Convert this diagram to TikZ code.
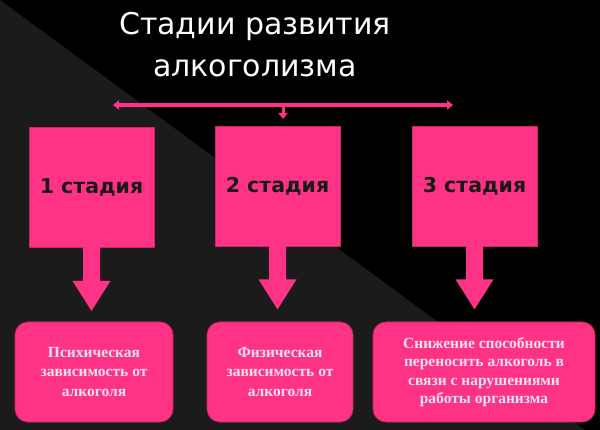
\documentclass[tikz,border=0pt]{standalone}
\usepackage{fontspec}
\setmainfont{Liberation Serif}
\newfontfamily\titlefont{DejaVu Sans}
\usetikzlibrary{calc,arrows.meta}
\definecolor{hotpink}{HTML}{FF3385}
\definecolor{darkbg}{HTML}{1B1B1B}
\definecolor{pinktext}{HTML}{FBE3EE}
\definecolor{pinkedge}{HTML}{C8285F}
\tikzset{
  stagebox/.style={fill=hotpink, draw=pinkedge, line width=0.8pt, minimum width=125pt, minimum height=120pt, inner sep=0pt,
    font=\titlefont\bfseries\fontsize{20.5}{24}\selectfont, text=black!90},
  resultbox/.style={fill=hotpink, draw=pinkedge, line width=0.8pt, rounded corners=13pt, minimum height=100pt, inner sep=0pt,
    align=center, font=\bfseries\fontsize{15.5}{19.5}\selectfont, text=pinktext},
  titletext/.style={text=white, font=\titlefont\fontsize{30}{42}\selectfont, align=center},
  connector/.style={draw=hotpink, line width=3.5pt, -{Triangle[width=9pt,length=6pt]}},
  blockarrow/.style={fill=hotpink}
}
\begin{document}
\begin{tikzpicture}[x=1pt,y=-1pt]
\useasboundingbox (0,0) rectangle (600,430);
\fill[black] (0,0) rectangle (600,430);
\fill[darkbg] (0,0) -- (585,430) -- (0,430) -- cycle;

\node[titletext] (title) at (255,45) {Стадии развития\\алкоголизма};

\node[stagebox] (s1) at (91.5,187.5) {1 стадия};
\node[stagebox] (s2) at (277.5,186) {2 стадия};
\node[stagebox] (s3) at (474.5,186) {3 стадия};

\node[resultbox, minimum width=158pt] (r1) at (94,372) {Психическая\\зависимость от\\алкоголя};
\node[resultbox, minimum width=146pt] (r2) at (280,372) {Физическая\\зависимость от\\алкоголя};
\node[resultbox, minimum width=222pt, font=\bfseries\fontsize{15.5}{18.5}\selectfont] (r3) at (484,372) {Снижение способности\\переносить алкоголь в\\связи с нарушениями\\работы организма};

% top connector
\coordinate (cl) at (113,105);
\coordinate (cr) at (453,105);
\coordinate (cm) at (283,105);
\coordinate (cd) at (283,119);
\draw[connector, {Triangle[width=9pt,length=6pt]}-{Triangle[width=9pt,length=6pt]}] (cl) -- (cr);
\draw[draw=hotpink, line width=3pt, -{Triangle[width=9pt,length=6pt]}] (cm) -- (cd);

% block arrows
\foreach \s/\r in {s1/r1,s2/r2,s3/r3}{
  \fill[blockarrow] ($(\s.south)+(-8.5,-1)$) -- ($(\s.south)+(-8.5,33)$) -- ($(\s.south)+(-19,33)$)
    -- ($(\s.south)+(0,63)$) -- ($(\s.south)+(19,33)$) -- ($(\s.south)+(8.5,33)$) -- ($(\s.south)+(8.5,-1)$) -- cycle;
}
\end{tikzpicture}
\end{document}
